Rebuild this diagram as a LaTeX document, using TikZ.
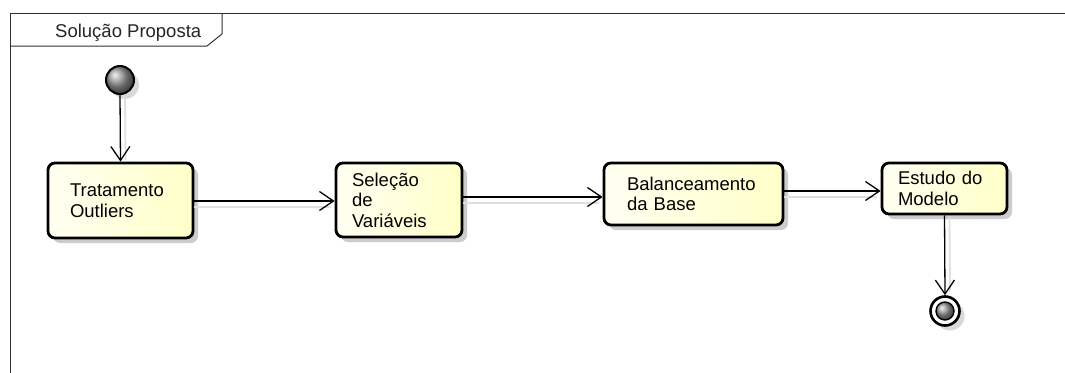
\documentclass[tikz,border=0pt]{standalone}
\usepackage{fontspec}
\setmainfont{Liberation Sans}
\usetikzlibrary{calc,arrows.meta,shadows}
\definecolor{actfill}{HTML}{FFFFC8}
\definecolor{actlight}{HTML}{FFFFF2}
\definecolor{framecol}{HTML}{303030}
\tikzset{
  actbox/.style n args={3}{draw=black, line width=2.8pt, rounded corners=7pt,
    left color=actlight, right color=actfill,
    minimum width=#1pt, minimum height=#2pt, text width=#1pt-2*#3pt, inner xsep=#3pt,
    inner ysep=0pt, align=left, font=\fontsize{18.5}{20.5}\selectfont,
    drop shadow={shadow xshift=5pt, shadow yshift=-5pt, fill=black!20, opacity=1}},
  flow/.style={draw=black, line width=1.3pt, -{Straight Barb[length=14pt,width=19pt,line width=1.3pt]}},
  ghost/.style={draw=black!12, line width=1.8pt},
  statedrop/.style={drop shadow={shadow xshift=5pt, shadow yshift=-5pt, fill=black!15, opacity=1}},
}
\begin{document}
\begin{tikzpicture}[x=1pt,y=-1pt]
\useasboundingbox (0,0) rectangle (1065,372);
\fill[white] (0,0) rectangle (1065,372);

% frame with its name tab
\draw[framecol, line width=1pt] (10,380) -- (10,13) -- (1070,13);
\draw[framecol, line width=1pt] (222,13) -- (222,34) -- (207,46) -- (10,46);
\node[anchor=base west, inner sep=0pt, font=\fontsize{18.5}{20}\selectfont, text=black!85] (title) at (55,37) {Solução Proposta};

% activities
\node[actbox={145}{75}{22}] (trat) at (120.5,200.5) {Tratamento\\Outliers};
\node[actbox={126}{74}{16}] (sel) at (399,200) {Seleção\\de\\Variáveis};
\node[actbox={179}{62}{23}] (bal) at (693.5,194) {Balanceamento\\da Base};
\node[actbox={125}{51}{16}] (est) at (944.5,188.5) {Estudo do\\Modelo};

% initial and final states
\node[circle, draw=black, line width=2pt, minimum size=28pt, inner sep=0pt,
      ball color=black!40, statedrop] (init) at (120,80) {};
\node[circle, draw=black, line width=2.6pt, minimum size=29pt, inner sep=0pt, fill=white,
      statedrop] (final) at (945,311) {};
\node[circle, draw=black, line width=1.4pt, minimum size=18pt, inner sep=0pt, ball color=black!40] (finalcore) at (final.center) {};

% faint connector shadows
\coordinate (e1) at ($(trat.east)+(0,0.5)$);
\coordinate (e2) at ($(sel.east)+(0,-3)$);
\coordinate (e3) at ($(bal.east)+(0,-3)$);
\draw[ghost] ($(init.south)+(5,2)$) -- ($(trat.north)+(5,-2)$);
\draw[ghost] ($(e1)+(0,6)$) -- ($(e1 -| sel.west)+(-4,6)$);
\draw[ghost] ($(e2)+(0,6)$) -- ($(e2 -| bal.west)+(-4,6)$);
\draw[ghost] ($(e3)+(0,6)$) -- ($(e3 -| est.west)+(-4,6)$);
\draw[ghost] ($(est.south)+(5,2)$) -- ($(final.north)+(5,-4)$);

% control flows
\draw[flow] (init.south) -- (trat.north);
\draw[flow] (e1) -- (e1 -| sel.west);
\draw[flow] (e2) -- (e2 -| bal.west);
\draw[flow] (e3) -- (e3 -| est.west);
\draw[flow] (est.south) -- (final.north);
\end{tikzpicture}
\end{document}
